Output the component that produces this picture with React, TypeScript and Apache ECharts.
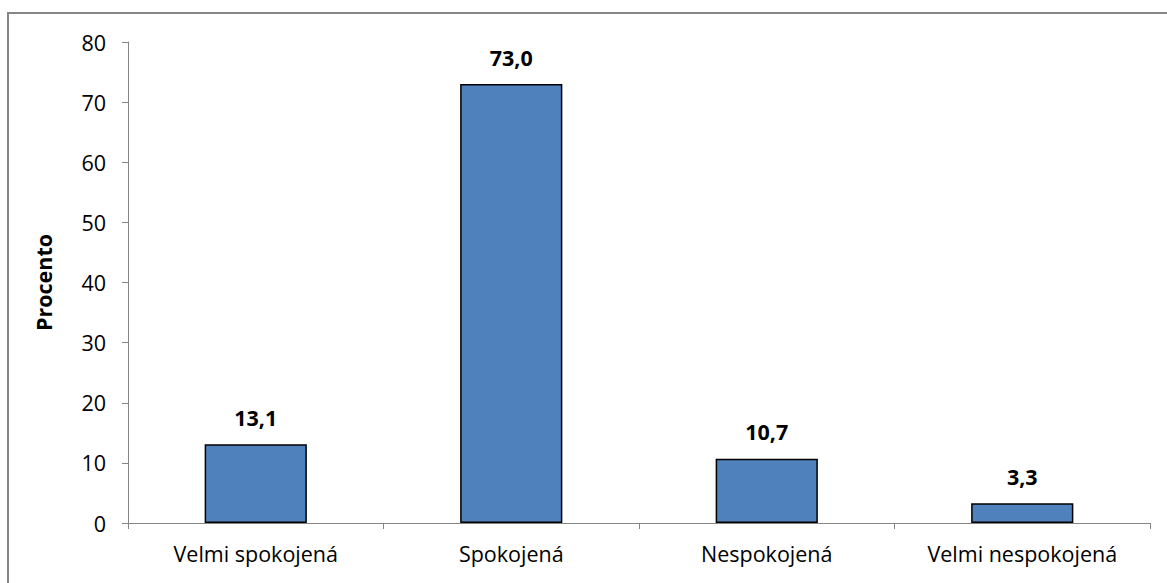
import React, { useEffect, useRef } from "react";
import * as echarts from "echarts";

const categories = ["Velmi spokojená", "Spokojená", "Nespokojená", "Velmi nespokojená"];
const values = [13.1, 73.0, 10.7, 3.3];
const yTicks = [0, 10, 20, 30, 40, 50, 60, 70, 80];
const yAxisTitle = "Procento";

const FONT = "'Open Sans', 'Noto Sans', sans-serif";
const FS = 21.5;

export default function App() {
  const ref = useRef<HTMLDivElement>(null);
  useEffect(() => {
    if (!ref.current) return;
    const chart = echarts.init(ref.current, undefined, { renderer: "svg" });
    chart.setOption({
      animation: false,
      backgroundColor: "#ffffff",
      graphic: [
        {
          type: "rect",
          shape: { x: 8, y: 13, width: 1200, height: 620 },
          style: { fill: "none", stroke: "#868686", lineWidth: 2 },
          silent: true,
        },
      ],
      grid: { left: 128, right: 17, top: 42, bottom: 60, containLabel: false },
      xAxis: {
        type: "category",
        data: categories,
        axisLine: { show: true, lineStyle: { color: "#868686", width: 1 } },
        axisTick: { show: true, alignWithLabel: false, length: 6, lineStyle: { color: "#868686" } },
        axisLabel: { color: "#000", fontSize: FS, fontFamily: FONT, margin: 19 },
      },
      yAxis: {
        type: "value",
        min: yTicks[0],
        max: yTicks[yTicks.length - 1],
        interval: 10,
        name: yAxisTitle,
        nameLocation: "middle",
        nameGap: 74,
        nameRotate: 90,
        nameTextStyle: { color: "#000", fontSize: FS, fontWeight: "bold", fontFamily: FONT },
        axisLine: { show: true, lineStyle: { color: "#868686", width: 1 } },
        axisTick: { show: true, length: 6, lineStyle: { color: "#868686" } },
        axisLabel: { color: "#000", fontSize: FS, fontFamily: FONT, margin: 22 },
        splitLine: { show: false },
      },
      series: [
        {
          type: "bar",
          data: values,
          barWidth: "40%",
          itemStyle: { color: "#4F81BD", borderColor: "#000", borderWidth: 1.5 },
          label: {
            show: true,
            position: "top",
            distance: 16,
            color: "#000",
            fontSize: FS,
            fontWeight: "bold",
            fontFamily: FONT,
            formatter: (p: any) => p.value.toFixed(1).replace(".", ","),
          },
        },
      ],
    });
    return () => chart.dispose();
  }, []);
  return (
    <div
      ref={ref}
      style={{ position: "fixed", left: 0, top: 0, width: 1167, height: 583 }}
    />
  );
}
